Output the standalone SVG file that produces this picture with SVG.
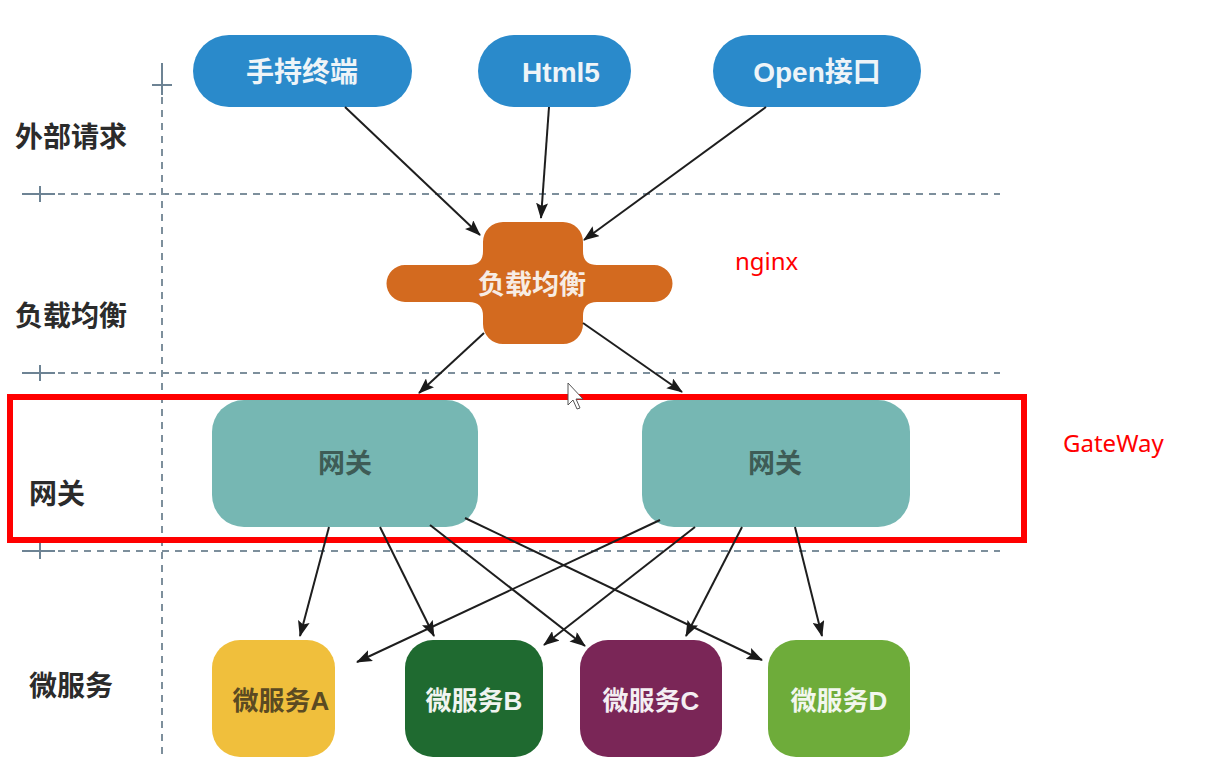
<svg xmlns="http://www.w3.org/2000/svg" width="1214" height="768" viewBox="0 0 1214 768">
<defs>
<marker id="arr" viewBox="0 0 16 12" refX="15" refY="6" markerWidth="16" markerHeight="12" markerUnits="userSpaceOnUse" orient="auto">
<path d="M0,0 L16,6 L0,12 L3,6 Z" fill="#1a1a1a"/>
</marker>
<style>
.lane{stroke:#7d8f9c;stroke-width:2;stroke-dasharray:7 6;fill:none}
.tick{stroke:#6d8394;stroke-width:2;fill:none}
.lbl{font-family:"Noto Sans CJK SC","Noto Sans",sans-serif;font-weight:bold;font-size:28px;fill:#2b2b2b}
.pill{fill:#2a8acb}
.ptxt{font-family:"Liberation Sans","Noto Sans CJK SC",sans-serif;font-weight:bold;font-size:28px;fill:#eef4f8;text-anchor:middle}
.gw{fill:#76b7b3}
.gtxt{font-family:"Noto Sans CJK SC",sans-serif;font-weight:bold;font-size:27px;fill:#3e5c56;text-anchor:middle}
.ms{font-family:"Liberation Sans","Noto Sans CJK SC",sans-serif;font-weight:bold;font-size:26px;text-anchor:middle}
.conn{stroke:#1e1e1e;stroke-width:2;fill:none;marker-end:url(#arr)}
.note{font-family:"Noto Sans","Liberation Sans",sans-serif;font-size:24px;fill:#ff0000}
</style>
</defs>
<rect width="1214" height="768" fill="#ffffff"/>

<g id="lanes">
<line class="tick" x1="162" y1="63" x2="162" y2="95"/>
<line class="tick" x1="152" y1="85" x2="172" y2="85"/>
<line class="lane" x1="162" y1="97" x2="162" y2="755"/>
<line class="tick" x1="22" y1="194" x2="55" y2="194"/>
<line class="tick" x1="40" y1="186" x2="40" y2="202"/>
<line class="lane" x1="58" y1="194" x2="1000" y2="194"/>
<line class="tick" x1="22" y1="373" x2="55" y2="373"/>
<line class="tick" x1="40" y1="365" x2="40" y2="381"/>
<line class="lane" x1="58" y1="373" x2="1000" y2="373"/>
<line class="tick" x1="22" y1="551" x2="55" y2="551"/>
<line class="tick" x1="40" y1="543" x2="40" y2="559"/>
<line class="lane" x1="58" y1="551" x2="1000" y2="551"/>
<text class="lbl" x="15" y="147">外部请求</text>
<text class="lbl" x="15" y="326">负载均衡</text>
<text class="lbl" x="29" y="504">网关</text>
<text class="lbl" x="29" y="696">微服务</text>
</g>

<g id="gateway-frame">
<rect x="10" y="397" width="1014" height="143" fill="none" stroke="#ff0000" stroke-width="6"/>
<text class="note" x="1063" y="452">GateWay</text>
</g>

<g id="nginx-label">
<text class="note" x="735" y="270">nginx</text>
</g>

<g id="n-mobile">
<rect class="pill" x="193" y="35" width="219" height="72" rx="36"/>
<text class="ptxt" x="302" y="82">手持终端</text>
</g>
<g id="n-html5">
<rect class="pill" x="478" y="35" width="153" height="72" rx="36"/>
<text class="ptxt" x="561" y="82">Html5</text>
</g>
<g id="n-open">
<rect class="pill" x="713" y="35" width="208" height="72" rx="36"/>
<text class="ptxt" x="817" y="82">Open接口</text>
</g>

<g id="n-lb">
<path fill="#d36a1f" d="M503,222 L563,222 A20,20 0 0 1 583,242 L583,251 Q583,265 597,265 L654,265 A18.5,18.5 0 0 1 654,302 L597,302 Q583,302 583,316 L583,324 A20,20 0 0 1 563,344 L503,344 A20,20 0 0 1 483,324 L483,316 Q483,302 469,302 L405,302 A18.5,18.5 0 0 1 405,265 L469,265 Q483,265 483,251 L483,242 A20,20 0 0 1 503,222 Z"/>
<text x="532" y="294" text-anchor="middle" font-family="Noto Sans CJK SC, sans-serif" font-weight="bold" font-size="27" fill="#f7ece4">负载均衡</text>
</g>

<g id="n-gw1">
<rect class="gw" x="212" y="400" width="266" height="127" rx="32"/>
<text class="gtxt" x="345" y="473">网关</text>
</g>
<g id="n-gw2">
<rect class="gw" x="642" y="400" width="268" height="127" rx="32"/>
<text class="gtxt" x="775" y="473">网关</text>
</g>

<g id="n-msA">
<rect x="212" y="640" width="123" height="117" rx="28" fill="#f0bf3c"/>
<text class="ms" x="281" y="710" fill="#5b4a22">微服务A</text>
</g>
<g id="n-msB">
<rect x="405" y="640" width="138" height="117" rx="28" fill="#1f6a30"/>
<text class="ms" x="474" y="710" fill="#f0f4f0">微服务B</text>
</g>
<g id="n-msC">
<rect x="580" y="640" width="142" height="117" rx="28" fill="#7a2657"/>
<text class="ms" x="651" y="710" fill="#f4eef2">微服务C</text>
</g>
<g id="n-msD">
<rect x="768" y="640" width="142" height="117" rx="28" fill="#6eac3a"/>
<text class="ms" x="839" y="710" fill="#f2f7ee">微服务D</text>
</g>

<g id="connectors">
<line class="conn" x1="345" y1="107" x2="480" y2="235"/>
<line class="conn" x1="549" y1="107" x2="541" y2="218"/>
<line class="conn" x1="766" y1="107" x2="584" y2="240"/>
<line class="conn" x1="484" y1="333" x2="419" y2="393"/>
<line class="conn" x1="583" y1="323" x2="682" y2="392"/>
<line class="conn" x1="329" y1="527" x2="300" y2="636"/>
<line class="conn" x1="380" y1="527" x2="434" y2="636"/>
<line class="conn" x1="430" y1="525" x2="585" y2="646"/>
<line class="conn" x1="465" y1="518" x2="762" y2="660"/>
<line class="conn" x1="660" y1="520" x2="357" y2="662"/>
<line class="conn" x1="695" y1="527" x2="544" y2="645"/>
<line class="conn" x1="742" y1="527" x2="686" y2="636"/>
<line class="conn" x1="795" y1="527" x2="822" y2="636"/>
</g>

<g id="cursor">
<path d="M568,383 L568,405 L573,400 L577,409 L580,408 L576,399 L583,399 Z" fill="#ffffff" stroke="#555" stroke-width="1"/>
</g>
</svg>
